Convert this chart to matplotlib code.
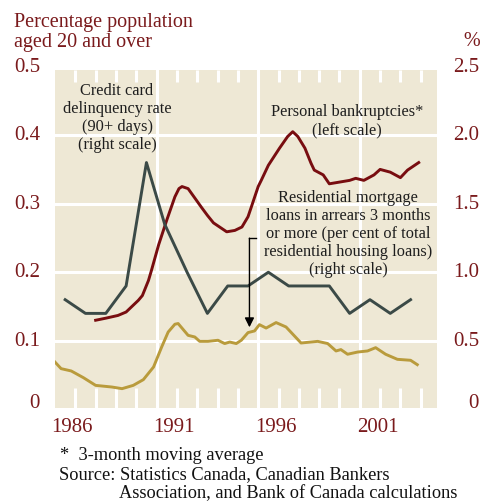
import matplotlib
matplotlib.use("Agg")
import matplotlib.pyplot as plt
import matplotlib.transforms as mtransforms

W, H = 483, 503
DARK_RED = "#7a1a1c"
BG = "#eee8d5"
plt.rcParams["font.family"] = ["Liberation Serif", "DejaVu Serif"]

# credit card delinquency rate, annual, right scale (%)
cc_years = [1986.5, 1987.5, 1988.5, 1989.5, 1990.5, 1991.4, 1992.5, 1993.5, 1994.5,
            1995.5, 1996.5, 1997.5, 1998.5, 1999.5, 2000.5, 2001.5, 2002.5, 2003.5]
cc_rate = [0.8, 0.7, 0.7, 0.9, 1.8, 1.35, 1.0, 0.7, 0.9,
           0.9, 1.0, 0.9, 0.9, 0.9, 0.7, 0.8, 0.7, 0.8]

# personal bankruptcies, 3-month moving average, left scale
bk_years = [1988.0, 1988.5, 1989.1, 1989.5, 1990.1, 1990.3, 1990.6, 1990.75, 1991.1,
            1991.5, 1991.9, 1992.1, 1992.25, 1992.55, 1992.96, 1993.2, 1993.5, 1993.8,
            1994.2, 1994.45, 1994.85, 1995.2, 1995.5, 1995.66, 1996.0, 1996.15, 1996.5,
            1997.05, 1997.45, 1997.7, 1997.95, 1998.3, 1998.6, 1998.76, 1999.2, 1999.5,
            2000.1, 2000.5, 2000.8, 2001.2, 2001.7, 2002.0, 2002.5, 2003.0, 2003.35, 2003.9]
bk_rate = [0.130, 0.133, 0.137, 0.142, 0.159, 0.166, 0.188, 0.203, 0.240,
           0.276, 0.310, 0.322, 0.325, 0.322, 0.305, 0.295, 0.283, 0.272,
           0.264, 0.259, 0.261, 0.266, 0.281, 0.295, 0.325, 0.334, 0.356,
           0.381, 0.398, 0.405, 0.398, 0.381, 0.359, 0.349, 0.342, 0.329,
           0.332, 0.334, 0.337, 0.334, 0.342, 0.350, 0.346, 0.338, 0.349, 0.360]

# residential mortgages in arrears 3+ months, right scale (%)
mg_years = [1986.0, 1986.3, 1986.8, 1987.4, 1988.0, 1988.8, 1989.3, 1989.85, 1990.35,
            1990.85, 1991.25, 1991.57, 1991.9, 1992.06, 1992.55, 1992.88, 1993.12, 1993.53,
            1994.02, 1994.35, 1994.6, 1994.92, 1995.17, 1995.5, 1995.82, 1996.06, 1996.39,
            1996.88, 1997.37, 1998.11, 1998.93, 1999.42, 1999.83, 2000.07, 2000.4, 2000.89,
            2001.38, 2001.78, 2002.27, 2002.85, 2003.5, 2003.83]
mg_rate = [0.345, 0.297, 0.280, 0.231, 0.175, 0.163, 0.151, 0.175, 0.217,
           0.309, 0.455, 0.564, 0.621, 0.626, 0.540, 0.528, 0.496, 0.496,
           0.504, 0.480, 0.491, 0.480, 0.504, 0.560, 0.572, 0.618, 0.593,
           0.633, 0.601, 0.484, 0.496, 0.480, 0.426, 0.436, 0.402, 0.418,
           0.426, 0.450, 0.402, 0.365, 0.358, 0.326]

left_ticks = [0, 0.1, 0.2, 0.3, 0.4, 0.5]
left_labels = ["0", "0.1", "0.2", "0.3", "0.4", "0.5"]
right_labels = ["0", "0.5", "1.0", "1.5", "2.0", "2.5"]
year_labels = [1986, 1991, 1996, 2001]


def fx(px):
    return px / W


def fy(py):
    return 1 - py / H


def bare(a, ylim):
    a.patch.set_visible(False)
    a.set_xlim(x0, x1)
    a.set_ylim(*ylim)
    a.axis("off")


fig = plt.figure(figsize=(W / 100, H / 100), dpi=100)
fig.patch.set_facecolor("white")
rect = [fx(55), fy(408), fx(437) - fx(55), fy(70) - fy(408)]
x0, x1 = 1986.0, 2004.8
y0, y1 = 0.002, 0.495

# background panel with white grid and tick marks
bg = fig.add_axes(rect, zorder=0)
bg.set_facecolor(BG)
bg.set_xticks([])
bg.set_yticks([])
for s in bg.spines.values():
    s.set_visible(False)
bg.set_xlim(x0, x1)
bg.set_ylim(y0, y1)
for v in left_ticks[1:-1]:
    bg.axhline(v, color="white", lw=2.2)
for yr in [1991, 1996, 2001]:
    bg.axvline(yr, color="white", lw=2.2)
minor = [y for y in range(1987, 2005) if y not in (1991, 1996, 2001)]
btrans = mtransforms.blended_transform_factory(bg.transData, bg.transAxes)
bg.vlines(minor, 1 - 12 / 338, 1, color="white", lw=2.2, transform=btrans)
bg.vlines(minor, 0, 20 / 338, color="white", lw=2.2, transform=btrans)

# mortgage arrears (right scale)
ax2 = fig.add_axes(rect, zorder=1)
bare(ax2, (y0 * 5, y1 * 5))
ax2.plot(mg_years, mg_rate, color="#b99b3c", lw=2.1)

# bankruptcies (left scale)
ax = fig.add_axes(rect, zorder=2)
bare(ax, (y0, y1))
ax.plot(bk_years, bk_rate, color="#780d10", lw=2.1)

# credit card delinquency (right scale)
ax3 = fig.add_axes(rect, zorder=3)
bare(ax3, (y0 * 5, y1 * 5))
ax3.plot(cc_years, cc_rate, color="#3b4a47", lw=2.1)

# annotation arrow for mortgage series
ya, yb = (409 - 238) / 685, (409 - 327) / 685
ax3.plot([1995.9, 1995.57], [ya * 5, ya * 5], color="black", lw=1.0)
ax3.annotate("", xy=(1995.57, yb * 5), xytext=(1995.57, ya * 5),
             arrowprops=dict(arrowstyle="-|>", color="black", lw=1.0,
                             mutation_scale=14, shrinkA=0, shrinkB=0))

# tick labels
tick = dict(color=DARK_RED, fontsize=15)
for v, lab, rlab in zip(left_ticks, left_labels, right_labels):
    py = 410 - v * 686
    if v == 0:
        py = 403
    fig.text(fx(40), fy(py), lab, ha="right", va="center", **tick)
    fig.text(fx(479), fy(py), rlab, ha="right", va="center", **tick)
for yr in year_labels:
    px = 53 + (yr + 0.93 - 1986) * 20.4
    fig.text(fx(px), fy(427), str(yr), ha="center", va="center", **tick)

title = dict(color=DARK_RED, fontsize=14.5)
fig.text(fx(14), fy(22), "Percentage population", ha="left", va="center", **title)
fig.text(fx(14), fy(42), "aged 20 and over", ha="left", va="center", **title)
fig.text(fx(480), fy(42), "%", ha="right", va="center", **title)

ann = dict(ha="center", va="center", color="#1e1e1e", fontsize=11.8, linespacing=1.16)
fig.text(fx(117), fy(118), "Credit card\ndelinquency rate\n(90+ days)\n(right scale)", **ann)
fig.text(fx(347), fy(121), "Personal bankruptcies*\n(left scale)", **ann)
fig.text(fx(348), fy(234), "Residential mortgage\nloans in arrears 3 months\nor more (per cent of total\n"
         "residential housing loans)\n(right scale)", **ann)

foot = dict(ha="left", va="center", color="#111111", fontsize=13.2)
fig.text(fx(60), fy(455), "*  3-month moving average", **foot)
fig.text(fx(59), fy(475), "Source: Statistics Canada, Canadian Bankers", **foot)
fig.text(fx(119), fy(494), "Association, and Bank of Canada calculations", **foot)

fig.savefig("out.png", dpi=100)
